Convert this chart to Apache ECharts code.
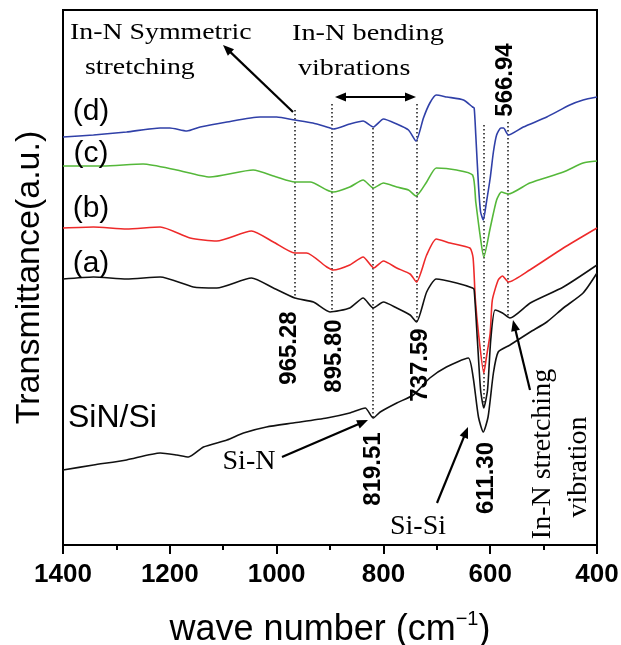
<!DOCTYPE html>
<html>
<head>
<meta charset="utf-8">
<script src="https://cdn.jsdelivr.net/npm/echarts@6/dist/echarts.min.js"></script>
<style>html,body{margin:0;padding:0;background:#fff;}#c{width:621px;height:645px;}</style>
</head>
<body>
<div id="c"></div>
<script>
// ---- data (wavenumber in cm^-1, transmittance in arbitrary offset units) ----
const wnD = [1400,1343,1281,1218,1200,1168,1143,1093,1031,1000,966,932,906,894,863,838,819,800,775,753,739,725,713,701,681,650,633,630,627,622,618,613,607,600,594,588,580,575,566,538,494,451,426,400];
const tD  = [408,410,413,417,417,414,418,423,428,428,425,422,418,416,421,424,418,426,421,415,404,427,442,450,448,445,438,437,410,360,333,325,343,367,393,410,417,417,410,418,428,440,445,448];

const wnC = [1400,1325,1250,1187,1125,1044,1000,966,937,906,894,863,838,819,800,775,753,739,719,701,663,633,627,619,612,600,588,579,566,526,463,426,400];
const tC  = [379,379,381,375,368,375,368,363,363,355,353,358,365,357,362,358,355,349,363,377,375,370,343,310,288,317,345,353,351,362,373,382,384];

const wnB = [1400,1343,1281,1218,1162,1112,1047,1006,966,944,906,894,863,838,818,800,775,750,738,719,701,675,638,632,628,622,612,607,600,596,585,577,566,526,463,400];
const tB  = [317,318,316,318,307,304,314,303,292,292,278,275,280,288,277,284,277,271,263,290,306,302,297,287,247,212,172,188,212,245,265,269,263,275,297,317];

const wnA = [1400,1343,1281,1218,1156,1112,1047,1006,966,931,900,863,838,819,800,775,750,738,719,701,663,633,630,624,618,612,605,599,591,577,563,525,463,400];
const tA  = [266,268,266,268,258,257,267,257,247,243,233,237,247,237,243,237,230,223,253,266,262,257,255,205,155,137,155,205,235,232,227,242,258,280];

const wnS = [1400,1343,1281,1218,1187,1165,1137,1093,1062,1019,969,906,863,834,819,806,775,744,713,682,641,632,622,613,604,594,585,563,525,494,463,426,400];
const tS  = [75,80,85,92,90,88,98,105,112,118,122,127,132,137,127,133,142,150,167,178,187,168,128,113,128,172,193,200,213,223,237,252,272];

const seriesNames = ['(d)','(c)','(b)','(a)','SiN/Si'];
const xTicks = [1400,1200,1000,800,600,400];

const peakWn     = [965.28, 895.80, 819.51, 737.59, 611.30, 566.94];
const peakLabels = ['965.28','895.80','819.51','737.59','611.30','566.94'];
const peakTop    = [435,441,417,441,420,423];
const peakBottom = [247,234,128,223,137,228];

// ---- build ----
function zip(a,b){ return a.map((v,i)=>[v,b[i]]); }
const curves = [
  {name: seriesNames[0], data: zip(wnD,tD), color:'#3040a8'},
  {name: seriesNames[1], data: zip(wnC,tC), color:'#55b83a'},
  {name: seriesNames[2], data: zip(wnB,tB), color:'#ee2a2a'},
  {name: seriesNames[3], data: zip(wnA,tA), color:'#111111'},
  {name: seriesNames[4], data: zip(wnS,tS), color:'#111111'}
];

const SANS = '"Liberation Sans", Arial, Helvetica, sans-serif';
const SERIF = '"Liberation Serif", "Times New Roman", serif';

function txt(text, x, y, o){
  o = o || {};
  return {
    type:'text', x:x, y:y, rotation:o.rot||0, scaleX:o.sx||1, z:50,
    style:{
      text:text, fill:'#000',
      fontSize:o.fs||24, fontFamily:o.ff||SANS, fontWeight:o.fw||'normal',
      align:o.align||'center', verticalAlign:'middle',
      textAlign:o.align||'center', textVerticalAlign:'middle'
    }
  };
}
function arrow(x1,y1,x2,y2,both){
  const els = [];
  const L = 11, W = 4.5;
  const dx = x2-x1, dy = y2-y1, len = Math.hypot(dx,dy);
  const ux = dx/len, uy = dy/len, nx = -uy, ny = ux;
  function head(tx,ty,sx,sy){
    const bx = tx - sx*L, by = ty - sy*L;
    return {type:'polygon', z:50, shape:{points:[[tx,ty],[bx+nx*W,by+ny*W],[bx-nx*W,by-ny*W]]}, style:{fill:'#000'}};
  }
  const sx1 = both ? x1 + ux*L*0.8 : x1, sy1 = both ? y1 + uy*L*0.8 : y1;
  els.push({type:'line', z:50, shape:{x1:sx1,y1:sy1,x2:x2-ux*L*0.8,y2:y2-uy*L*0.8}, style:{stroke:'#000', lineWidth:2.2}});
  els.push(head(x2,y2,ux,uy));
  if (both) els.push(head(x1,y1,-ux,-uy));
  return els;
}

const graphics = [].concat(
  [
    txt('In-N Symmetric', 70, 33, {ff:SERIF, fs:24, sx:1.16, align:'left'}),
    txt('stretching', 85, 68, {ff:SERIF, fs:24, sx:1.16, align:'left'}),
    txt('In-N bending', 292, 34, {ff:SERIF, fs:24, sx:1.18, align:'left'}),
    txt('vibrations', 298, 69, {ff:SERIF, fs:24, sx:1.17, align:'left'}),
    txt('(d)', 91, 112, {fs:30}),
    txt('(c)', 91, 154, {fs:30}),
    txt('(b)', 91, 209, {fs:30}),
    txt('(a)', 91, 264, {fs:30}),
    txt('SiN/Si', 68, 418, {fs:32, align:'left'}),
    txt('Si-N', 249, 462, {ff:SERIF, fs:28}),
    txt('Si-Si', 418, 527, {ff:SERIF, fs:28}),
    txt('In-N stretching', 543, 454, {ff:SERIF, fs:28, rot:Math.PI/2}),
    txt('vibration', 579, 467, {ff:SERIF, fs:28, rot:Math.PI/2}),
    txt(peakLabels[0], 289, 348, {fs:24, fw:'bold', rot:Math.PI/2}),
    txt(peakLabels[1], 334, 356, {fs:24, fw:'bold', rot:Math.PI/2}),
    txt(peakLabels[2], 373, 469, {fs:24, fw:'bold', rot:Math.PI/2}),
    txt(peakLabels[3], 420, 365, {fs:24, fw:'bold', rot:Math.PI/2}),
    txt(peakLabels[4], 486, 478, {fs:24, fw:'bold', rot:Math.PI/2}),
    txt(peakLabels[5], 505, 80, {fs:24, fw:'bold', rot:Math.PI/2})
  ],
  arrow(293,112,223,45,false),
  arrow(335,97,416,97,true),
  arrow(282,457,368,420,false),
  arrow(437,503,468,427,false),
  arrow(530,390,513,320,false)
);

const series = curves.map(c => ({
  name:c.name, type:'line', data:c.data, showSymbol:false, symbol:'none',
  smooth:0.2,
  lineStyle:{color:c.color, width:1.6}, itemStyle:{color:c.color}, z:3, animation:false
}));
series.push({
  type:'lines', coordinateSystem:'cartesian2d', z:2, animation:false,
  lineStyle:{color:'#222', width:1.6, type:[1.6,2.4], opacity:1},
  data: peakWn.map((w,i)=>({coords:[[w,peakTop[i]],[w,peakBottom[i]]]}))
});

const chart = echarts.init(document.getElementById('c'), null, {renderer:'canvas'});
chart.setOption({
  animation:false,
  backgroundColor:'#fff',
  grid:{left:63, right:24, top:10, bottom:100, show:true, borderColor:'#000', borderWidth:2, containLabel:false, outerBoundsMode:'none'},
  xAxis:{
    type:'value', min:400, max:1400, interval:200, inverse:true,
    name:'wave number (cm{sup|\u22121})', nameLocation:'middle', nameGap:64,
    nameTextStyle:{fontSize:36, fontFamily:SANS, color:'#000',
      rich:{sup:{fontSize:20, fontFamily:SANS, color:'#000', padding:[0,0,22,0]}}},
    axisLine:{show:true, lineStyle:{color:'#000', width:2}},
    axisTick:{show:true, inside:false, length:9, lineStyle:{color:'#000', width:2}},
    minorTick:{show:true, splitNumber:2, length:5, lineStyle:{color:'#000', width:2}},
    splitLine:{show:false}, minorSplitLine:{show:false},
    axisLabel:{show:true, margin:17, fontSize:26, fontWeight:'bold', fontFamily:SANS, color:'#000',
      formatter: v => String(v)}
  },
  yAxis:{
    type:'value', min:0, max:535,
    name:'Transmittance(a.u.)', nameLocation:'middle', nameGap:16, nameRotate:90,
    nameTextStyle:{fontSize:34, fontFamily:SANS, color:'#000'},
    axisLine:{show:true, lineStyle:{color:'#000', width:2}},
    axisTick:{show:false}, axisLabel:{show:false}, splitLine:{show:false}
  },
  series: series,
  graphic: graphics
});
</script>
</body>
</html>
